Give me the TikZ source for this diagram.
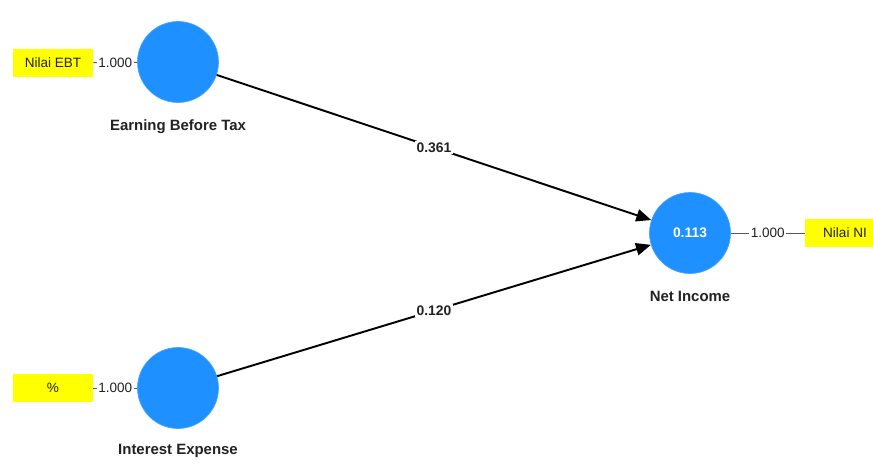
\documentclass[tikz,border=0pt]{standalone}
\usepackage{fontspec}
\setmainfont{Liberation Sans}
\usetikzlibrary{arrows.meta}

\definecolor{lvblue}{RGB}{30,144,255}
\definecolor{mvyellow}{RGB}{255,255,0}
\definecolor{inktext}{RGB}{34,34,34}

\tikzset{
  latent/.style={circle, fill=lvblue, draw=lvblue!80!white, line width=0.4pt, minimum size=1.62cm, inner sep=0pt},
  manifest/.style={rectangle, fill=mvyellow, minimum width=1.6cm, minimum height=0.58cm, inner sep=0pt, text=inktext, font=\fontsize{7.7}{9}\selectfont},
  title/.style={text=inktext, font=\bfseries\fontsize{8.5}{10}\selectfont},
  pathcoef/.style={-{Triangle[length=8.5pt,width=7pt]}, line width=1.1pt},
  coef/.style={fill=white, inner sep=1pt, text=inktext, font=\bfseries\fontsize{7.9}{9}\selectfont},
  loading/.style={draw=black!65, line width=0.5pt},
  weight/.style={fill=white, inner sep=1pt, text=inktext, font=\fontsize{7.7}{9}\selectfont}
}

\begin{document}
\begin{tikzpicture}[x=0.02cm, y=-0.02cm]
  \clip (0,0) rectangle (873,466);
  \fill[white] (0,0) rectangle (873,466);

  % Constructs
  \node[latent] (ebt) at (178,62) {};
  \node[latent] (ie) at (178,388) {};
  \node[latent, text=white, font=\bfseries\fontsize{7.9}{9}\selectfont] (ni) at (690,233) {0.113};

  % Construct names
  \node[title] (ebtname) at (178,127) {Earning Before Tax};
  \node[title] (iename) at (178,451) {Interest Expense};
  \node[title] (niname) at (690,296) {Net Income};

  % Indicators
  \node[manifest] (nebt) at (53,63) {Nilai EBT};
  \node[manifest] (pct) at (53,388) {\%};
  \node[manifest] (nni) at (845,233) {Nilai NI};

  % Outer loadings
  \draw[loading] (nebt) -- (ebt) node[weight, midway] {1.000};
  \draw[loading] (pct) -- (ie) node[weight, midway] {1.000};
  \draw[loading] (ni) -- (nni) node[weight, midway] {1.000};

  % Path coefficients
  \draw[pathcoef] (ebt) -- (ni) node[coef, midway] {0.361};
  \draw[pathcoef] (ie) -- (ni) node[coef, midway] {0.120};
\end{tikzpicture}
\end{document}
